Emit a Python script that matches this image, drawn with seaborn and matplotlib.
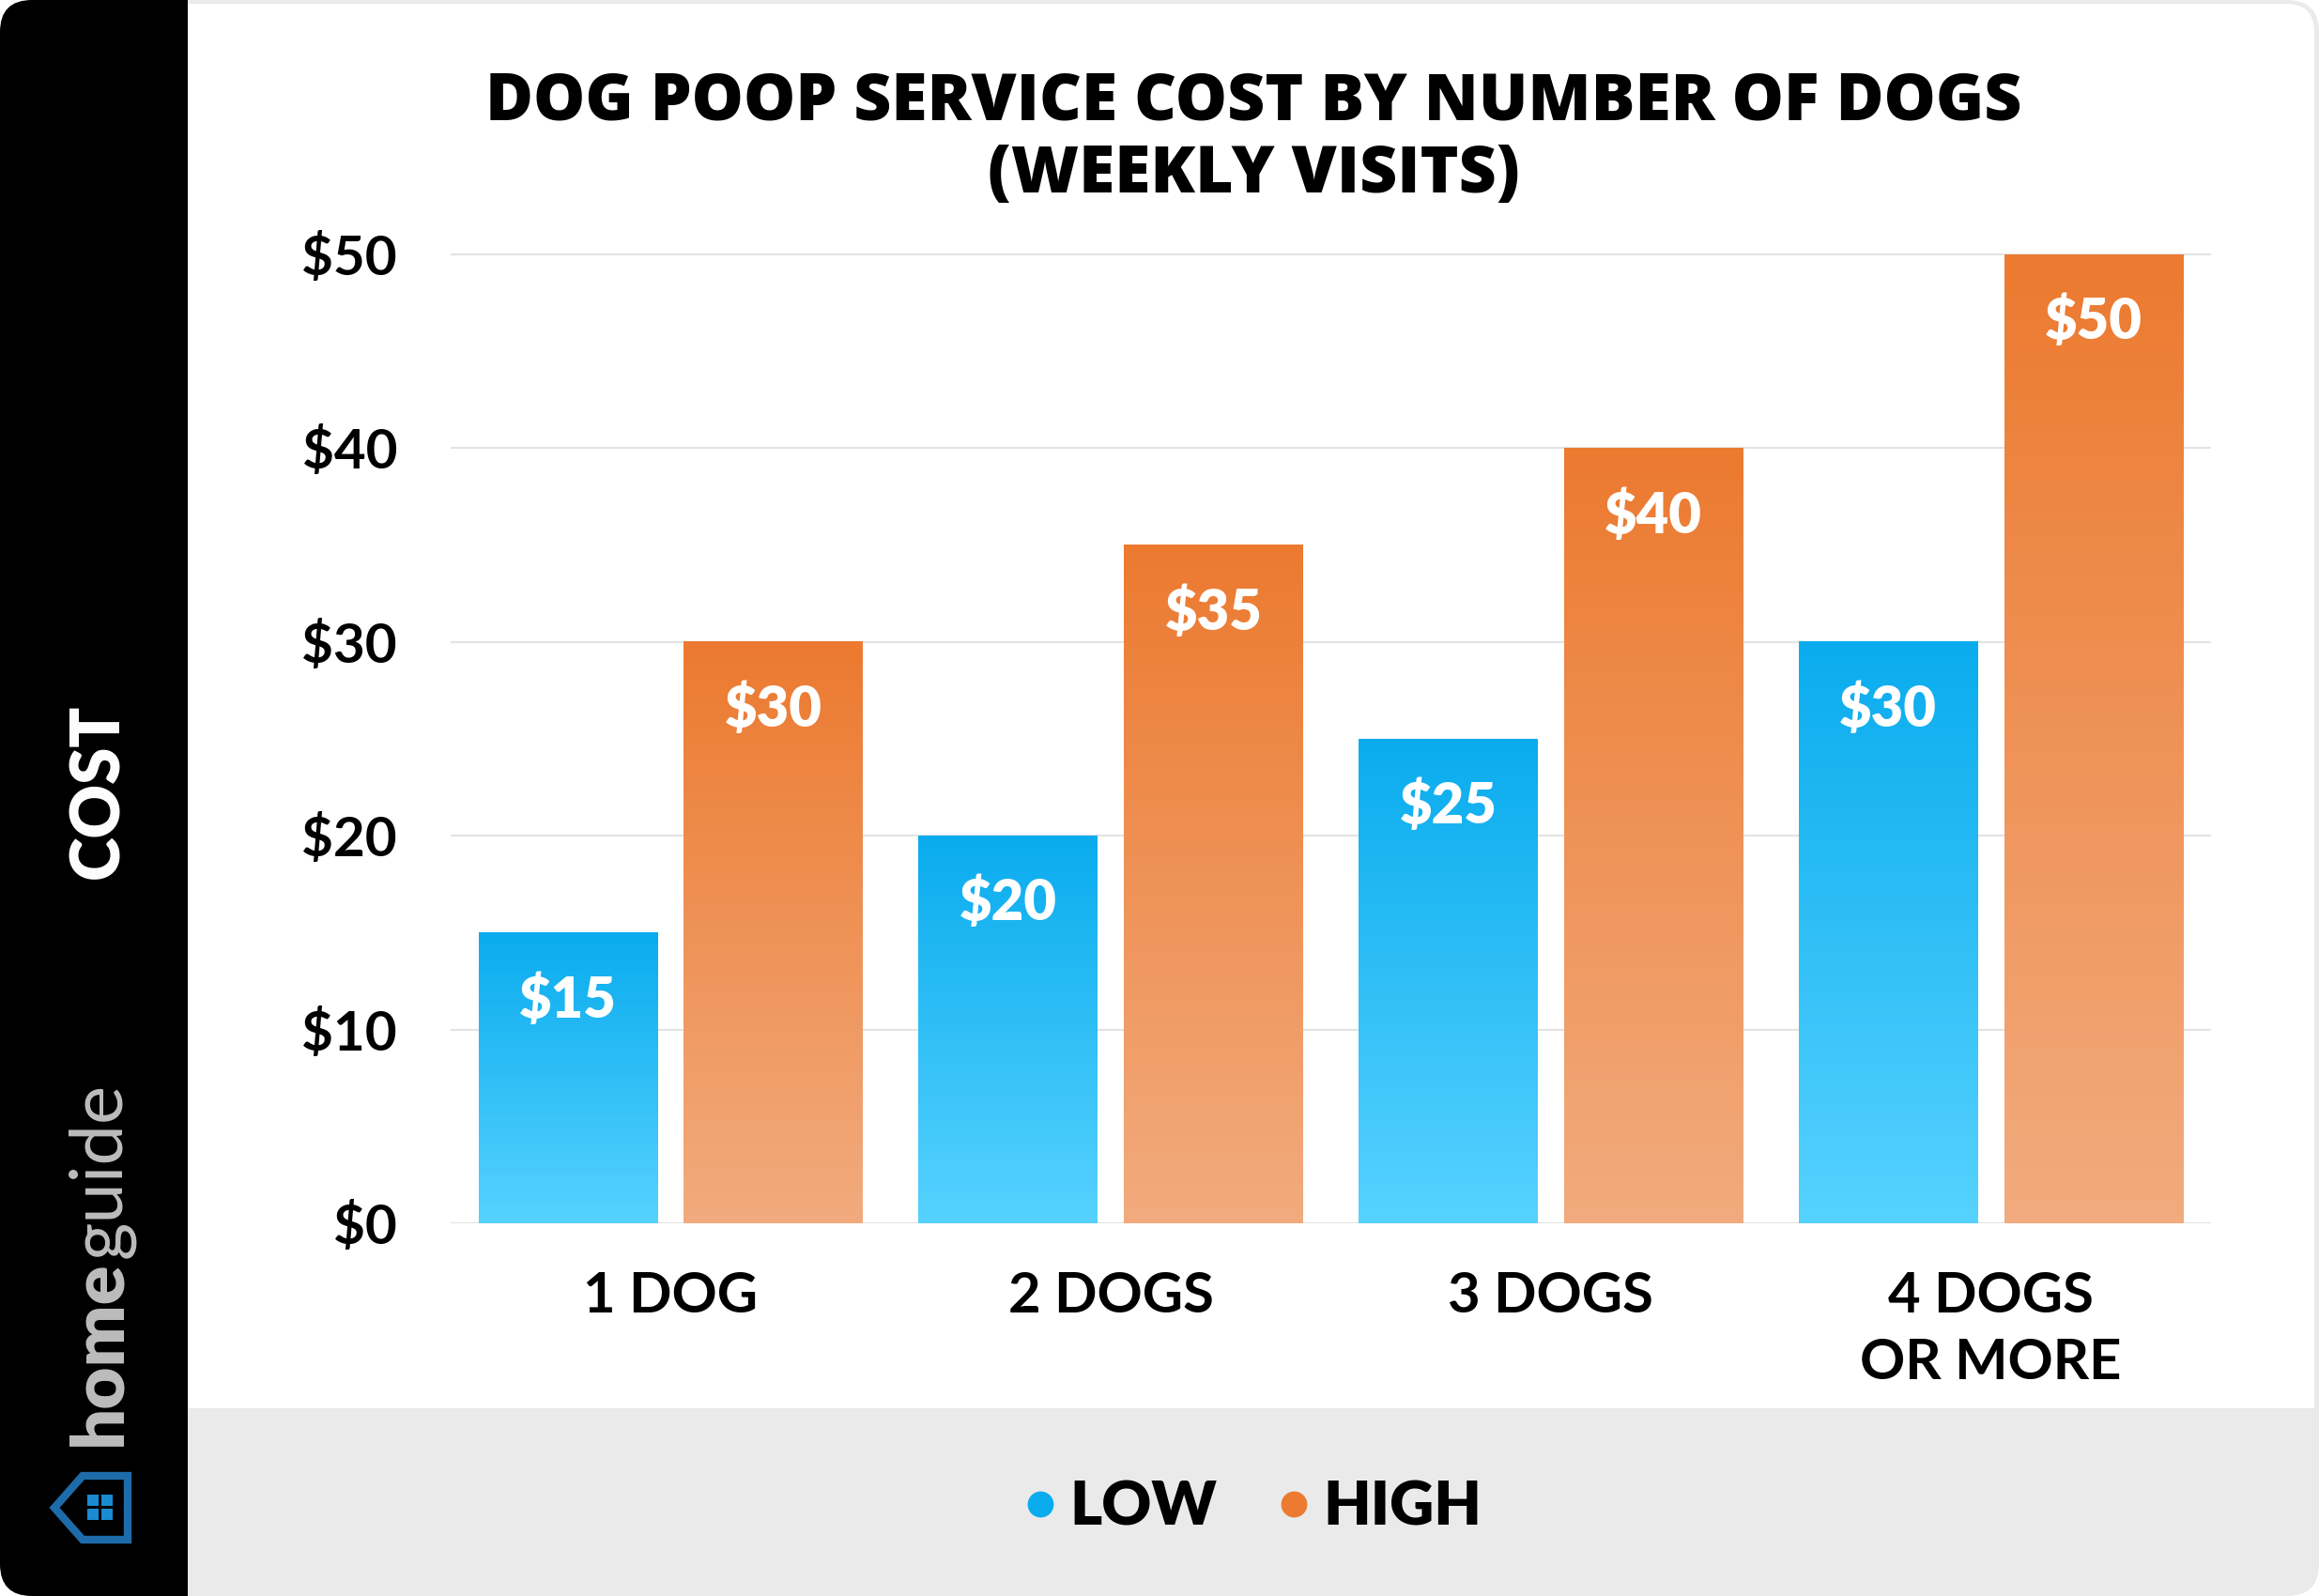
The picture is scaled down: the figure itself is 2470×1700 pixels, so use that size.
import numpy as np
import pandas as pd
import matplotlib
matplotlib.use("Agg")
import matplotlib.pyplot as plt
import matplotlib.transforms as mtransforms
from matplotlib.patches import FancyBboxPatch, Rectangle, Polygon
from matplotlib.lines import Line2D
from matplotlib.colors import LinearSegmentedColormap
import seaborn as sns

# Chart data
dogs = ["1 DOG", "2 DOGS", "3 DOGS", "4 DOGS\nOR MORE"]
low_cost = [15, 20, 25, 30]
high_cost = [30, 35, 40, 50]
levels = ["LOW", "HIGH"]
y_ticks = [0, 10, 20, 30, 40, 50]
y_tick_labels = ["$0", "$10", "$20", "$30", "$40", "$50"]

title_1 = "DOG POOP SERVICE COST BY NUMBER OF DOGS"
title_2 = "(WEEKLY VISITS)"

# Colours
col_low_top, col_low_bot = "#0AACEE", "#56D2FF"
col_high_top, col_high_bot = "#EC7A30", "#F2AB7E"
col_band = "#EAEAEA"

df = pd.DataFrame({
    "dogs": dogs * 2,
    "cost": low_cost + high_cost,
    "level": [levels[0]] * len(dogs) + [levels[1]] * len(dogs),
})

sns.set_theme(style="white")
plt.rcParams["font.family"] = ["Lato", "DejaVu Sans"]
plt.rcParams["text.color"] = "black"

W, H = 2470, 1700
fig = plt.figure(figsize=(W / 100, H / 100), dpi=100)
fig.patch.set_facecolor("white")
px = mtransforms.IdentityTransform()

# Card background: light grey border / bottom band, white panel, black sidebar
outer = FancyBboxPatch((0, 0), W, H, boxstyle="round,pad=0,rounding_size=34",
                       facecolor=col_band, edgecolor="none", transform=px, zorder=-10)
fig.add_artist(outer)
inner = FancyBboxPatch((0, 0), W - 5, H - 4, boxstyle="round,pad=0,rounding_size=30",
                       facecolor="none", edgecolor="none", transform=px, zorder=-10)
fig.add_artist(inner)
panel = Rectangle((150, 200), W - 5 - 150, H - 4 - 200, facecolor="white",
                  edgecolor="none", transform=px, zorder=-9)
fig.add_artist(panel)
panel.set_clip_path(inner)
fig.add_artist(FancyBboxPatch((0, 0), 200, H, boxstyle="round,pad=0,rounding_size=34",
                              facecolor="black", edgecolor="none", transform=px, zorder=-8))
fig.add_artist(Rectangle((120, 0), 80, H, facecolor="black", edgecolor="none",
                         transform=px, zorder=-8))

# Plot area
ax_left, ax_right = 480, 2355
y0_px, y50_px = 1303, 271
ymax = 50.6
unit = (y0_px - y50_px) / 50
ax_top = y50_px - (ymax - 50) * unit
ax = fig.add_axes([ax_left / W, (H - y0_px) / H, (ax_right - ax_left) / W, (y0_px - ax_top) / H])
ax.set_facecolor("none")

sns.barplot(data=df, x="dogs", y="cost", hue="level", hue_order=levels,
            palette={levels[0]: col_low_top, levels[1]: col_high_top},
            width=0.934, gap=0.1285, legend=False, ax=ax, zorder=2)

# Replace flat bars with vertical gradients
grad = np.linspace(0, 1, 256).reshape(-1, 1)
cmaps = [LinearSegmentedColormap.from_list("low", [col_low_bot, col_low_top]),
         LinearSegmentedColormap.from_list("high", [col_high_bot, col_high_top])]
for cont, cmap in zip(ax.containers, cmaps):
    for bar in cont:
        x0, w, h = bar.get_x(), bar.get_width(), bar.get_height()
        ax.imshow(grad, extent=[x0, x0 + w, 0, h], origin="lower", aspect="auto",
                  cmap=cmap, zorder=2, interpolation="bicubic")
        bar.set_visible(False)
        ax.annotate(f"${h:.0f}", xy=(x0 + w / 2, h), xytext=(0, -65),
                    textcoords="offset points", ha="center", va="baseline",
                    color="white", fontsize=43, fontweight="heavy", zorder=3)

ax.set_xlim(-0.5, len(dogs) - 0.5)
ax.set_ylim(0, ymax)
ax.set_axisbelow(True)
ax.yaxis.grid(True, color="#E3E3E3", linewidth=1.5)
ax.xaxis.grid(False)
for s in ax.spines.values():
    s.set_visible(False)
ax.set_xlabel("")
ax.set_ylabel("")
ax.set_yticks(y_ticks)
ax.set_yticklabels(y_tick_labels, fontsize=42, fontweight="bold", color="black")
ax.set_xticks(range(len(dogs)))
ax.set_xticklabels(dogs, fontsize=43, fontweight="bold", color="black", linespacing=1.38)
ax.tick_params(axis="y", length=0, pad=41)
ax.tick_params(axis="x", length=0, pad=37)

# Title
title_font = dict(family=["Open Sans", "DejaVu Sans"], fontsize=50, fontweight="heavy", color="black")
fig.text(1335 / W, 1 - 128 / H, title_1, ha="center", va="baseline", **title_font)
fig.text(1335 / W, 1 - 205 / H, title_2, ha="center", va="baseline", **title_font)

# Legend
handles = [Line2D([], [], marker="o", linestyle="none", markersize=20,
                  markerfacecolor=c, markeredgecolor="none")
           for c in ["#0AACEE", "#EC7A30"]]
leg = fig.legend(handles, levels, loc="center", bbox_to_anchor=(1335 / W, 1 - 1606 / H),
                 ncol=2, frameon=False, handlelength=0.5, handletextpad=0.23,
                 columnspacing=1.0, prop={"size": 47, "weight": "heavy"})
for t in leg.get_texts():
    t.set_color("black")

# Sidebar texts
fig.text(126, H - 843, "COST", transform=px, rotation=90, rotation_mode="anchor",
         ha="center", va="baseline", color="white", fontsize=51, fontweight="heavy")
home = fig.text(128, H - 1540, "home", transform=px, rotation=90, rotation_mode="anchor",
                ha="left", va="baseline", color="#BDBDBD", fontsize=56, fontweight="heavy")
fig.canvas.draw()
bb = home.get_window_extent()
fig.text(128, bb.y1 + 2, "guide", transform=px, rotation=90, rotation_mode="anchor",
         ha="left", va="baseline", color="#BDBDBD", fontsize=56, fontweight="normal")

# House logo
house = Polygon([(58, H - 1606), (88, H - 1572), (136, H - 1572), (136, H - 1640), (88, H - 1640)],
                closed=True, facecolor="none", edgecolor="#1E6BAA", linewidth=6,
                joinstyle="miter", transform=px)
fig.add_artist(house)
for sx in (93, 108):
    for sy in (1592, 1607):
        fig.add_artist(Rectangle((sx, H - sy - 12), 12, 12, facecolor="#1A8BD2",
                                 edgecolor="none", transform=px))

fig.savefig("out.png", dpi=100)
